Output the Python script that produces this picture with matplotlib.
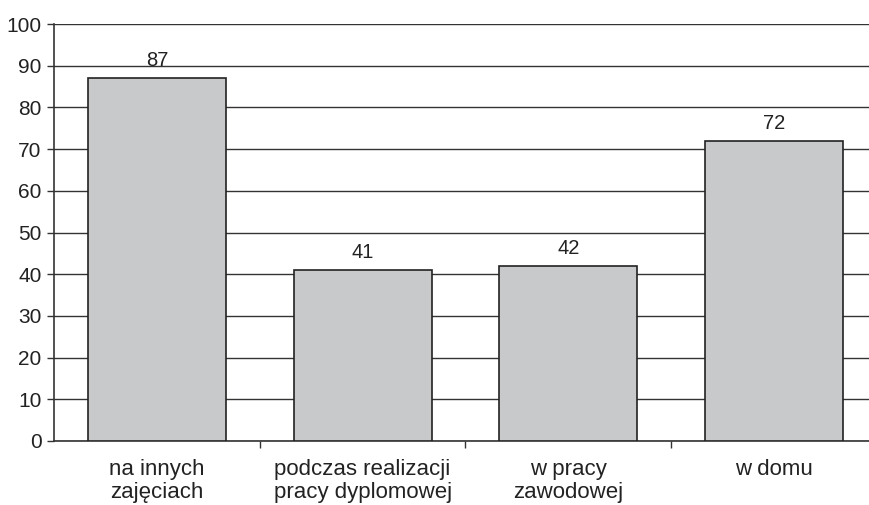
import matplotlib.pyplot as plt
import numpy as np

plt.rcParams['font.family'] = ['Liberation Sans', 'DejaVu Sans']

categories = ['na innych\nzajęciach', 'podczas realizacji\npracy dyplomowej',
              'w pracy\nzawodowej', 'w domu']
values = [87, 41, 42, 72]

fig = plt.figure(figsize=(8.7, 5.05), dpi=100)
ax = fig.add_axes([54/870, 1-441/505, 823/870, 417/505])

x = np.arange(len(categories))
ax.bar(x, values, width=0.67, color='#c8c9cb', edgecolor='#222222',
       linewidth=1.2, zorder=3)

# value labels above each bar
for xi, v in zip(x, values):
    ax.annotate(str(v), (xi, v), xytext=(0, 8.5), textcoords='offset points',
                ha='center', va='baseline', fontsize=14.5, color='#222222')

ax.set_xlim(-0.5, len(categories) - 0.5)
ax.set_ylim(0, 100)
ax.set_yticks(np.arange(0, 101, 10))
ax.yaxis.grid(True, color='#333333', linewidth=1.0, zorder=0)
ax.set_axisbelow(True)

ax.set_xticks(x)
ax.set_xticklabels(categories, fontsize=16, color='#222222', linespacing=1.1)
ax.set_xticks(np.arange(0.5, len(categories) - 0.5, 1), minor=True)
ax.tick_params(axis='x', which='major', length=0, pad=13)
ax.tick_params(axis='x', which='minor', length=5, width=1, color='#333333')
ax.tick_params(axis='y', length=5, width=1, color='#333333', labelsize=15,
               labelcolor='#222222', pad=4)

for s in ['top', 'right']:
    ax.spines[s].set_visible(False)
for s in ['left', 'bottom']:
    ax.spines[s].set_color('#333333')
    ax.spines[s].set_linewidth(1.2)

fig.savefig('out.png', dpi=100)
